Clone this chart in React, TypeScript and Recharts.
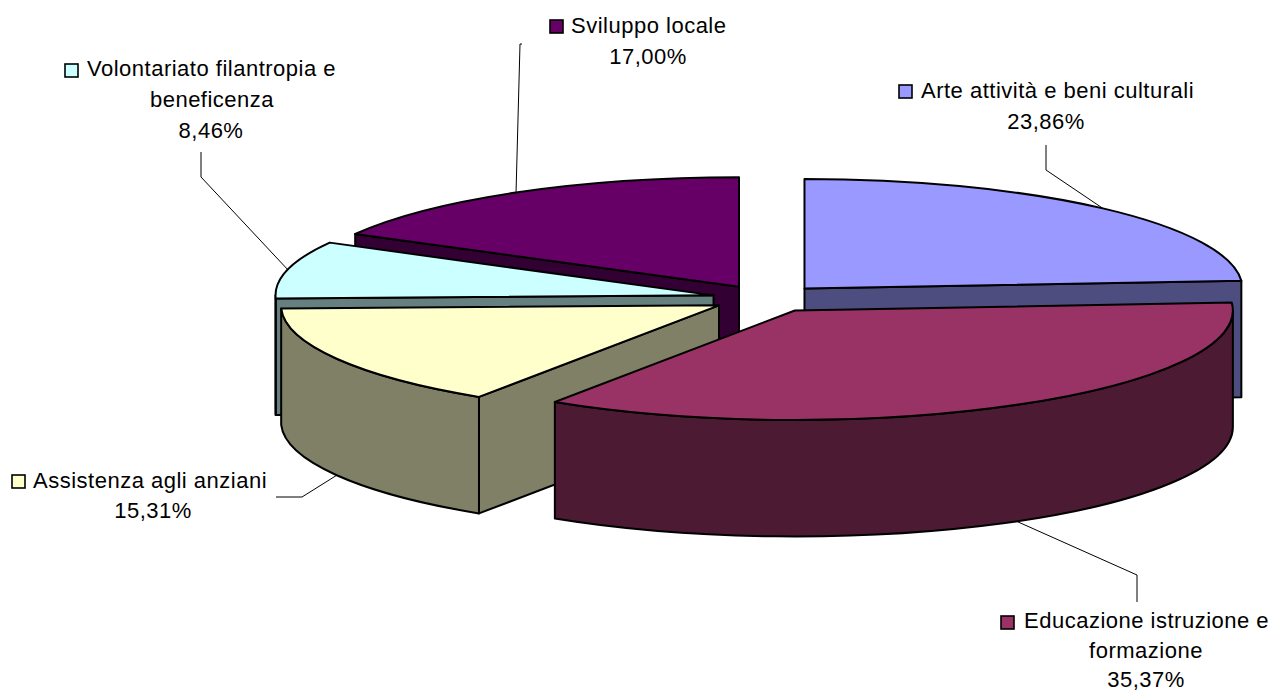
import { PieChart, Pie } from "recharts";

// Listed counter-clockwise from the 3 o'clock side: each slice paints over the previous one,
// so the nearest slice (Educazione) has to come last.
const categories = [
  "Arte attività e beni culturali",
  "Sviluppo locale",
  "Volontariato filantropia e beneficenza",
  "Assistenza agli anziani",
  "Educazione istruzione e formazione",
];
const shares = [23.86, 17.0, 8.46, 15.31, 35.37];
const shareLabels = ["23,86%", "17,00%", "8,46%", "15,31%", "35,37%"];
const topColors = ["#9999ff", "#660066", "#ccffff", "#ffffcc", "#993366"];
const wallColors = ["#4d4d80", "#330033", "#668080", "#808066", "#4d1a33"];

const tableData = categories.map((name, i) => ({ name, value: shares[i] }));

// 3D look of the pie
const TILT = 0.25;
const DEPTH = 116.5;
const EXPLODE = 55;
const STROKE = 2;

// First slice ends just above 3 o'clock so that the Arte slice starts at 12 o'clock
const START_ANGLE = 90 - shares[0] * 3.6;

const RAD = Math.PI / 180;
const FONT = "'Liberation Sans', Arial, sans-serif";

type Pt = { x: number; y: number };

function apexOf(cx: number, cy: number, mid: number): Pt {
  return {
    x: cx + EXPLODE * Math.cos(mid * RAD),
    y: cy - EXPLODE * TILT * Math.sin(mid * RAD),
  };
}

function rimPoint(apex: Pt, r: number, angle: number): Pt {
  return {
    x: apex.x + r * Math.cos(angle * RAD),
    y: apex.y - r * TILT * Math.sin(angle * RAD),
  };
}

function Slice3D(props: any) {
  const { cx, cy, outerRadius: r, startAngle, endAngle, index } = props;
  const a0 = Math.min(startAngle, endAngle);
  const a1 = Math.max(startAngle, endAngle);
  const mid = (a0 + a1) / 2;
  const apex = apexOf(cx, cy, mid);
  const ry = r * TILT;
  const midPt = rimPoint(apex, r, mid);

  const line = { stroke: "#000", strokeWidth: STROKE, strokeLinejoin: "round" as const };
  const wall = wallColors[index];

  // Straight cut faces, only the ones turned towards the viewer
  const cuts = [a0, a1].map((a) => {
    const p = rimPoint(apex, r, a);
    const px = p.x - apex.x;
    const py = p.y - apex.y;
    const cross = px * (midPt.y - apex.y) - py * (midPt.x - apex.x);
    const faces = Math.abs(px) > 1 && (px > 0 ? cross < 0 : cross > 0);
    if (!faces) return null;
    const d = `M${apex.x},${apex.y} L${p.x},${p.y} L${p.x},${p.y + DEPTH} L${apex.x},${apex.y + DEPTH} Z`;
    return <path key={a} d={d} fill={wall} {...line} />;
  });

  // Outer wall, only on the front half of the ellipse
  const walls = [
    [180, 360],
    [540, 720],
  ].map(([lo, hi]) => {
    const from = Math.max(a0, lo);
    const to = Math.min(a1, hi);
    if (to <= from) return null;
    const p = rimPoint(apex, r, from);
    const q = rimPoint(apex, r, to);
    const d =
      `M${p.x},${p.y} A${r},${ry} 0 0 0 ${q.x},${q.y} ` +
      `L${q.x},${q.y + DEPTH} A${r},${ry} 0 0 1 ${p.x},${p.y + DEPTH} Z`;
    return <path key={lo} d={d} fill={wall} {...line} />;
  });

  const s = rimPoint(apex, r, a0);
  const e = rimPoint(apex, r, a1);
  const top = `M${apex.x},${apex.y} L${s.x},${s.y} A${r},${ry} 0 0 0 ${e.x},${e.y} Z`;

  return (
    <g>
      {cuts}
      {walls}
      <path d={top} fill={topColors[index]} {...line} />
    </g>
  );
}

// Hand-placed callouts, same order as the categories
const callouts = [
  { key: [899, 85], lines: [[921, 98, "Arte attività e beni culturali"]], pct: [1046, 129], knee: [[1046, 145], [1046, 170]] },
  { key: [550, 20], lines: [[571, 33, "Sviluppo locale"]], pct: [648, 64], knee: [[522, 44], [520, 44]] },
  {
    key: [65, 64],
    lines: [[87, 76, "Volontariato filantropia e"], [212, 107, "beneficenza", "middle"]],
    pct: [211, 138],
    knee: [[201, 152], [201, 177]],
  },
  { key: [12, 475], lines: [[33, 488, "Assistenza agli anziani"]], pct: [153, 518], knee: [[276, 497], [302, 497]] },
  {
    key: [1001, 616],
    lines: [[1024, 628, "Educazione istruzione e"], [1146, 658, "formazione", "middle"]],
    pct: [1146, 687],
    knee: [[1137, 602], [1137, 575]],
  },
];

function Callout(props: any) {
  const { cx, cy, outerRadius: r, midAngle, index } = props;
  const c = callouts[index];
  const apex = apexOf(cx, cy, midAngle);
  const end = rimPoint(apex, r, midAngle);
  // Front-half slices hook onto the bottom of the wall
  const endY = Math.sin(midAngle * RAD) < 0 ? end.y + DEPTH : end.y;
  const points = [...c.knee, [end.x, endY]].map((p) => p.join(",")).join(" ");
  return (
    <g>
      <polyline points={points} fill="none" stroke="#000" strokeWidth={1} />
      <rect x={c.key[0]} y={c.key[1]} width={13} height={13} fill={topColors[index]} stroke="#000" strokeWidth={1.6} />
      {c.lines.map(([x, y, text, anchor]: any) => (
        <text key={text} x={x} y={y} textAnchor={anchor ?? "start"} fontSize={22} letterSpacing={0.5} fill="#000" fontFamily={FONT}>
          {text}
        </text>
      ))}
      <text x={c.pct[0]} y={c.pct[1]} textAnchor="middle" fontSize={22} letterSpacing={0.5} fill="#000" fontFamily={FONT}>
        {shareLabels[index]}
      </text>
    </g>
  );
}

export default function App() {
  return (
    <div style={{ position: "absolute", left: 0, top: 0, width: 1271, height: 692, background: "#fff" }}>
      <PieChart width={1271} height={692} margin={{ top: 0, right: 0, bottom: 0, left: 0 }}>
        <Pie
          data={tableData}
          dataKey="value"
          nameKey="name"
          cx={767}
          cy={298.6}
          outerRadius={438}
          startAngle={START_ANGLE}
          endAngle={START_ANGLE + 360}
          stroke="none"
          shape={Slice3D}
          label={Callout}
          labelLine={false}
          isAnimationActive={false}
        />
      </PieChart>
    </div>
  );
}
